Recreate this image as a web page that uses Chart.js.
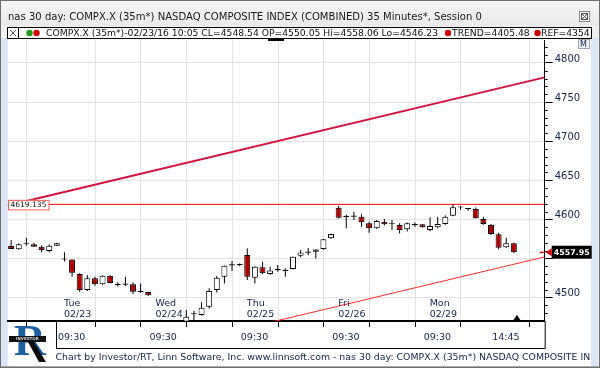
<!DOCTYPE html>
<html><head><meta charset="utf-8">
<script src="https://cdn.jsdelivr.net/npm/chart.js@4"></script>
<style>html,body{margin:0;padding:0;background:#fff;overflow:hidden}canvas{display:block}</style>
</head><body>
<canvas id="c" width="600" height="368"></canvas>
<script>
// ---- data (35-minute bars, one slot per bar) ----
const dayNames = ['Tue', 'Wed', 'Thu', 'Fri', 'Mon'];
const dayDates = ['02/23', '02/24', '02/25', '02/26', '02/29'];
const dayStartSlots = [7, 19, 31, 43, 55];
const tickSlots = [7, 16, 19, 28, 31, 40, 43, 52, 55, 64];
const tickLabels = ['09:30', '', '09:30', '', '09:30', '', '09:30', '', '09:30', '14:45'];
const yTicks = [4500, 4550, 4600, 4650, 4700, 4750, 4800];

const opens = [4565.9, 4561.6, 4568.0, 4568.0, 4565.0, 4559.5, 4566.2,
  4550.05, 4548.5, 4530.0, 4509.6, 4524.6, 4517.0, 4528.0, 4516.5, 4517.0, 4517.0, 4507.5, 4507.0,
  4466, 4452, 4458, 4462, 4469, 4478.5, 4477.6, 4488.2, 4509.6, 4526.6, 4541.0, 4541.5,
  4554.3, 4525.3, 4538.6, 4530.0, 4535.0, 4534.0, 4536.4, 4553.5, 4557.3, 4558.6, 4562.0, 4575.7,
  4614.8, 4603.0, 4603.3, 4603.3, 4594.9, 4588.5, 4597.0, 4593.6, 4592.7, 4587.2, 4592.5, 4593.6,
  4586.3, 4589.8, 4594.0, 4604.6, 4615.5, 4614.0, 4613.2, 4600.4, 4592.7, 4580.8, 4564.2, 4569.3];
const highs = [4573.5, 4569.0, 4576.5, 4570.0, 4567.0, 4568.0, 4570.0,
  4558.06, 4549.0, 4531.0, 4528.8, 4526.6, 4528.5, 4528.5, 4519.4, 4526.6, 4519.4, 4518.0, 4507.5,
  4469, 4462, 4466, 4469, 4484.0, 4483.0, 4494.0, 4511.8, 4527.5, 4541.0, 4546.7, 4543.5,
  4562.9, 4540.0, 4545.8, 4539.4, 4541.6, 4537.3, 4552.5, 4560.7, 4563.5, 4562.0, 4574.8, 4581.5,
  4617.4, 4606.0, 4609.7, 4606.4, 4597.0, 4599.0, 4600.4, 4599.0, 4595.0, 4596.0, 4596.0, 4594.0,
  4602.6, 4603.3, 4605.0, 4619.2, 4617.0, 4614.5, 4615.0, 4603.0, 4594.0, 4582.9, 4576.5, 4570.0];
const lows = [4561.6, 4561.0, 4566.2, 4564.8, 4557.8, 4557.8, 4566.0,
  4546.23, 4526.6, 4507.4, 4508.5, 4515.0, 4516.5, 4518.0, 4513.8, 4514.7, 4504.5, 4506.0, 4502.0,
  4448, 4440, 4450, 4455, 4466.0, 4470.0, 4476.7, 4486.0, 4506.6, 4518.0, 4533.9, 4540.0,
  4522.4, 4518.0, 4530.0, 4528.8, 4533.0, 4526.6, 4536.0, 4551.4, 4554.5, 4550.0, 4561.0, 4575.0,
  4601.0, 4588.5, 4599.0, 4590.5, 4583.0, 4587.5, 4592.0, 4586.3, 4582.0, 4584.5, 4590.5, 4589.5,
  4585.0, 4588.5, 4593.0, 4604.0, 4612.0, 4611.0, 4601.0, 4593.0, 4580.0, 4561.6, 4563.5, 4557.0];
const closes = [4562.0, 4568.0, 4568.4, 4565.0, 4560.7, 4566.2, 4569.3,
  4548.54, 4531.7, 4509.6, 4524.6, 4516.9, 4528.0, 4518.5, 4516.0, 4516.5, 4507.4, 4507.0, 4503.0,
  4452, 4458, 4462, 4465, 4475.5, 4479.0, 4487.0, 4508.3, 4525.3, 4540.7, 4541.6, 4541.8,
  4526.6, 4539.4, 4531.0, 4534.5, 4535.4, 4534.4, 4552.2, 4557.5, 4557.8, 4561.5, 4574.6, 4581.2,
  4602.0, 4603.5, 4603.8, 4596.2, 4588.5, 4597.8, 4593.6, 4594.0, 4586.3, 4595.0, 4593.0, 4589.8,
  4591.4, 4594.0, 4603.3, 4615.3, 4615.0, 4613.0, 4601.3, 4594.0, 4581.2, 4563.7, 4569.3, 4557.95];

const trendSlots = [7.45, 70.5];           // lower trend line (TREND)
const trendValues = [4405.48, 4552.0];
const channelSlots = [0, 70.5];           // upper channel line
const channelValues = [4617.7, 4781.5];
const refLevel = 4619.135;                // horizontal level line
const cursorBar = 7;                      // bar shown in the header
const trendLegend = '4405.48';
const refLegend = '4354';

// ---- chart ----
const FONT = '"DejaVu Sans", "Liberation Sans", sans-serif';
const NAVY = '#13234a';
const barX = i => i + 0.45;
const wickData = highs.map((h, i) => ({x: barX(i), y: [lows[i], h]}));
const bodyData = opens.map((o, i) => ({x: barX(i), y: [o, closes[i]]}));
const bodyColors = opens.map((o, i) => closes[i] >= o ? '#ffffff' : '#b30000');

function fitFont(ctx, text, width, weight) {
  ctx.font = (weight || '') + ' 10px ' + FONT;
  const w = ctx.measureText(text).width;
  const s = 10 * width / w;
  ctx.font = (weight || '') + ' ' + s.toFixed(2) + 'px ' + FONT;
}

const chromePlugin = {
  id: 'chrome',
  beforeDraw(chart) {
    const c = chart.ctx;
    c.save();
    c.fillStyle = '#f0f0f0';
    c.fillRect(0, 0, 600, 368);
    const g = c.createLinearGradient(0, 0, 0, 26);
    g.addColorStop(0, '#f6f6f6'); g.addColorStop(1, '#e9e9e9');
    c.fillStyle = g; c.fillRect(0, 0, 600, 26);
    c.fillStyle = '#ffffff';
    c.fillRect(7, 38, 585, 328);
    c.fillStyle = '#d9e5f4';
    c.fillRect(1, 38, 6.7, 328);
    c.fillRect(591, 38, 7, 328);
    c.strokeStyle = '#6f6f6f'; c.lineWidth = 1;
    c.strokeRect(0.5, 0.5, 599, 367);
    c.fillStyle = '#a8a8a8'; c.fillRect(1, 366, 598, 1);
    c.restore();
  },
  afterDatasetsDraw(chart) {
    const c = chart.ctx, xs = chart.scales.x, ys = chart.scales.y, a = chart.chartArea;
    c.save();
    // level label box
    const ly = ys.getPixelForValue(refLevel);
    c.fillStyle = '#ffffff'; c.fillRect(8, ly - 4.5, 41, 10);
    c.strokeStyle = '#ff5a5a'; c.lineWidth = 1; c.strokeRect(8.5, ly - 4, 40.5, 9.5);
    c.fillStyle = '#111'; c.textBaseline = 'middle'; c.textAlign = 'left';
    fitFont(c, refLevel.toFixed(3), 36);
    c.fillText(refLevel.toFixed(3), 10.5, ly + 1);
    // day labels inside plot
    c.fillStyle = NAVY;
    c.font = '9.5px ' + FONT;
    dayStartSlots.forEach((s, i) => {
      const x = xs.getPixelForValue(s) + 3;
      c.fillText(dayNames[i], x, 304);
      c.fillText(dayDates[i], x, 315);
    });
    // minor y ticks
    c.strokeStyle = '#000'; c.lineWidth = 1;
    for (let v = 4480; v <= 4820; v += 10) {
      if (v % 50 === 0) continue;
      const y = Math.round(ys.getPixelForValue(v)) + 0.5;
      c.beginPath(); c.moveTo(a.right, y); c.lineTo(a.right + 3, y); c.stroke();
    }
    // last close marker
    const last = closes[closes.length - 1];
    const cy = ys.getPixelForValue(last);
    c.fillStyle = '#000'; c.fillRect(a.right + 7, cy - 6.5, 40, 13);
    c.fillStyle = '#d40000';
    c.beginPath(); c.moveTo(a.right + 1, cy); c.lineTo(a.right + 7, cy - 4); c.lineTo(a.right + 7, cy + 4); c.closePath(); c.fill();
    c.fillRect(a.right - 5, cy - 0.5, 4, 1.5);
    c.fillStyle = '#fff';
    fitFont(c, last.toFixed(2), 36, 'bold');
    c.fillText(last.toFixed(2), a.right + 9, cy + 0.5);
    // bottom triangle marker on last bar
    const tx = xs.getPixelForValue(66.85);
    c.fillStyle = '#000';
    c.beginPath(); c.moveTo(tx - 3.5, a.bottom - 1); c.lineTo(tx + 3.5, a.bottom - 1); c.lineTo(tx, a.bottom - 6); c.closePath(); c.fill();
    c.fillRect(268, a.top - 1, 16, 2);
    c.restore();
  },
  afterDraw(chart) {
    const c = chart.ctx, a = chart.chartArea;
    c.save();
    c.textBaseline = 'middle'; c.textAlign = 'left';
    c.fillStyle = '#1a1a1a';
    const title = 'nas 30 day: COMPX.X (35m*) NASDAQ COMPOSITE INDEX (COMBINED) 35 Minutes*, Session 0';
    fitFont(c, title, 474);
    c.fillText(title, 8, 17);
    c.fillStyle = '#f4f4f4'; c.fillRect(579, 11, 11, 11);
    c.strokeStyle = '#8a8a8a'; c.strokeRect(579.5, 11.5, 10, 10);
    c.strokeStyle = '#555'; c.strokeRect(581.5, 13.5, 6, 6);
    c.beginPath(); c.moveTo(582, 14); c.lineTo(587, 19); c.moveTo(587, 14); c.lineTo(582, 19); c.stroke();
    // legend row
    c.fillStyle = '#fff'; c.fillRect(7, 27, 584, 11);
    c.strokeStyle = '#000'; c.lineWidth = 1; c.strokeRect(7.5, 27.5, 584, 11);
    c.beginPath(); c.moveTo(18.5, 27.5); c.lineTo(18.5, 38.5); c.stroke();
    c.strokeStyle = '#555';
    c.beginPath(); c.moveTo(10, 30); c.lineTo(16, 36); c.moveTo(16, 30); c.lineTo(10, 36); c.stroke();
    const dot = (x, col) => { c.fillStyle = col; c.beginPath(); c.arc(x, 33, 3.2, 0, Math.PI * 2); c.fill(); };
    dot(29.5, '#1a9c1a'); dot(36.5, '#d00000');
    const b = cursorBar;
    const leg = 'COMPX.X (35m*)-02/23/16 10:05 CL=' + closes[b].toFixed(2) + ' OP=' + opens[b].toFixed(2) +
      ' Hi=' + highs[b].toFixed(2) + ' Lo=' + lows[b].toFixed(2);
    c.fillStyle = '#111';
    fitFont(c, leg, 392);
    c.fillText(leg, 46, 33.5);
    dot(448, '#d00000');
    c.fillStyle = '#111';
    c.fillText('TREND=' + trendLegend, 452, 33.5);
    dot(537.5, '#d00000');
    c.save(); c.beginPath(); c.rect(540, 27, 51, 12); c.clip();
    c.fillStyle = '#111'; c.fillText('REF=' + refLegend, 541, 33.5);
    c.restore();
    // M button
    c.fillStyle = '#eef2f8'; c.fillRect(578, 39, 12, 10);
    c.strokeStyle = '#9aa6b8'; c.strokeRect(578.5, 39.5, 11, 9);
    c.fillStyle = NAVY; c.font = '8px ' + FONT; c.fillText('M', 580, 44.5);
    // x-axis label box
    c.strokeStyle = '#000'; c.lineWidth = 1;
    c.beginPath();
    c.moveTo(56.5, a.bottom); c.lineTo(56.5, 348.5); c.lineTo(a.right + 0.5, 348.5); c.lineTo(a.right + 0.5, a.bottom);
    c.stroke();
    // logo
    c.fillStyle = '#1d5fa3';
    c.font = 'bold 44px "Liberation Serif", serif';
    c.fillText('R', 14, 344);
    c.fillStyle = '#0a0a0a';
    c.beginPath(); c.moveTo(28, 342); c.lineTo(34, 342); c.lineTo(46, 362); c.lineTo(39, 362); c.closePath(); c.fill();
    c.fillStyle = '#111'; c.fillRect(9, 336, 37, 6);
    c.fillStyle = '#cfd8e8'; c.font = 'bold 4px ' + FONT; c.fillText('INVESTOR', 16, 339.3);
    // footer
    c.save(); c.beginPath(); c.rect(50, 350, 541, 16); c.clip();
    c.fillStyle = '#13234a';
    const foot = 'Chart by Investor/RT, Linn Software, Inc. www.linnsoft.com - nas 30 day: COMPX.X (35m*) NASDAQ COMPOSITE INDEX (COMBINED)';
    fitFont(c, 'Chart by Investor/RT, Linn Software, Inc. www.linnsoft.com - nas 30 day: COMPX.X (35m*) NASDAQ COMPOSITE IN', 536);
    c.fillText(foot, 55.5, 358);
    c.restore();
    c.restore();
  }
};

new Chart(document.getElementById('c'), {
  type: 'bar',
  data: {
    datasets: [
      {type: 'line', data: channelSlots.map((s, i) => ({x: s, y: channelValues[i]})), borderColor: '#d3123e',
       borderWidth: 2, pointRadius: 0, clip: 0, order: 6},
      {type: 'line', data: trendSlots.map((s, i) => ({x: s, y: trendValues[i]})), borderColor: '#ff2a2a',
       borderWidth: 1, pointRadius: 0, clip: 0, order: 6},
      {type: 'line', data: [{x: 0, y: refLevel}, {x: 70.5, y: refLevel}], borderColor: '#ff0000',
       borderWidth: 1, pointRadius: 0, clip: 0, order: 5},
      {data: wickData, backgroundColor: '#000', barThickness: 1, grouped: false, clip: 0, order: 3,
       borderWidth: 0, minBarLength: 1, inflateAmount: 0},
      {data: bodyData, backgroundColor: bodyColors, borderColor: '#000', borderWidth: 1, borderSkipped: false,
       barThickness: 6, grouped: false, clip: 0, order: 2, minBarLength: 1.2, inflateAmount: 0}
    ]
  },
  options: {
    responsive: false,
    animation: false,
    devicePixelRatio: 1,
    layout: {padding: {left: 7.7, top: 40, right: 10, bottom: 16}},
    plugins: {legend: {display: false}, tooltip: {enabled: false}},
    scales: {
      x: {
        type: 'linear', min: 0, max: 70.5, offset: false,
        afterBuildTicks: s => { s.ticks = tickSlots.map(v => ({value: v})); },
        afterFit: s => { s.height = 31; },
        grid: {color: '#e2e2e2', lineWidth: 1, tickLength: 6, tickColor: '#000'},
        border: {display: true, color: '#000', width: 2},
        ticks: {autoSkip: false, maxRotation: 0, align: 'start', padding: 5, labelOffset: -3, color: NAVY,
          font: {family: FONT, size: 9.5}, callback: (v, i) => tickLabels[i]}
      },
      y: {
        position: 'right', min: 4470, max: 4829.3,
        afterBuildTicks: s => { s.ticks = yTicks.map(v => ({value: v})); },
        afterFit: s => { s.width = 45.3; },
        grid: {color: '#e2e2e2', lineWidth: 1, tickLength: 8, tickColor: '#000'},
        border: {display: true, color: '#000', width: 1},
        ticks: {padding: 2, labelOffset: -4, color: NAVY, font: {family: FONT, size: 10},
          callback: v => String(v)}
      }
    }
  },
  plugins: [chromePlugin]
});
</script>
</body></html>
